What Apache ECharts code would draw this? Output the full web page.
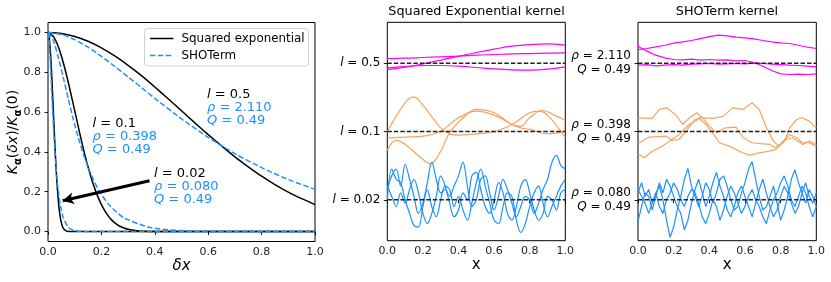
<!DOCTYPE html>
<html><head><meta charset="utf-8">
<script src="https://cdn.jsdelivr.net/npm/echarts@6/dist/echarts.min.js"></script>
<style>html,body{margin:0;padding:0;background:#fff}#c{width:831px;height:282px}</style>
</head><body><div id="c"></div><script>
// ---------- left panel: normalised kernels ----------
const seX_l05 = [0,0.05,0.1,0.15,0.2,0.25,0.3,0.35,0.4,0.45,0.5,0.55,0.6,0.65,0.7,0.75,0.8,0.85,0.9,0.95,1.0];
const seY_l05 = [1,0.995,0.980,0.956,0.923,0.882,0.835,0.783,0.726,0.667,0.607,0.546,0.487,0.430,0.375,0.325,0.278,0.236,0.198,0.165,0.135];
const seX_l01 = [0,0.02,0.04,0.06,0.08,0.10,0.12,0.14,0.16,0.18,0.20,0.22,0.24,0.26,0.28,0.30,0.34,0.40,0.50,1.0];
const seY_l01 = [1,0.980,0.923,0.835,0.726,0.607,0.487,0.375,0.278,0.198,0.135,0.089,0.056,0.034,0.020,0.011,0.003,0.0003,0,0];
const seX_l002 = [0,0.005,0.01,0.015,0.02,0.025,0.03,0.035,0.04,0.045,0.05,0.055,0.06,0.07,0.08,0.1,1.0];
const seY_l002 = [1,0.969,0.882,0.755,0.607,0.458,0.325,0.216,0.135,0.080,0.044,0.023,0.011,0.002,0.0003,0,0];
const shoX_2110 = [0,0.05,0.1,0.15,0.2,0.25,0.3,0.35,0.4,0.5,0.6,0.7,0.8,0.9,1.0];
const shoY_2110 = [1,0.990,0.964,0.926,0.880,0.829,0.777,0.723,0.669,0.566,0.473,0.391,0.321,0.261,0.212];
const shoX_0398 = [0,0.0189,0.0377,0.0566,0.0755,0.0943,0.1132,0.132,0.151,0.170,0.1886,0.2264,0.283,0.377,0.472,0.566,0.755,1.0];
const shoY_0398 = [1,0.964,0.880,0.777,0.669,0.566,0.473,0.391,0.321,0.261,0.212,0.137,0.0697,0.0218,0.0066,0.0020,0.0002,0];
const shoX_0080 = [0,0.0038,0.0076,0.0114,0.0152,0.019,0.0228,0.0265,0.0303,0.0341,0.0379,0.0455,0.0569,0.0758,0.0948,0.1137,0.1517,1.0];
const shoY_0080 = [1,0.964,0.880,0.777,0.669,0.566,0.473,0.391,0.321,0.261,0.212,0.137,0.0697,0.0218,0.0066,0.0020,0.0002,0];
const arrowFrom = [0.38,0.255], arrowTo = [0.055,0.155];
const kTicks = [0,0.2,0.4,0.6,0.8,1.0];
const legendNames = ['Squared exponential','SHOTerm'];

// ---------- middle panel: squared exponential samples (offset 2 / 1 / 0) ----------
const pinkSE_x = [0,0.1,0.2,0.3,0.4,0.5,0.6,0.7,0.8,0.9,1.0];
const pinkSE1 = [2.069,2.074,2.084,2.094,2.103,2.118,2.128,2.138,2.142,2.147,2.152];
const pinkSE2 = [1.908,1.942,1.991,2.045,2.103,2.157,2.206,2.250,2.274,2.284,2.265];
const pinkSE3 = [1.933,1.952,1.967,1.967,1.957,1.938,1.918,1.904,1.899,1.913,1.947];
const orangeSE1 = [[0,0.996],[0.1,1.420],[0.15,1.503],[0.2,1.386],[0.3,1.054],[0.35,0.966],[0.4,0.947],[0.5,0.966],[0.6,0.996],[0.7,1.103],[0.8,1.274],[0.85,1.298],[0.9,1.240],[1.0,0.908]];
const orangeSE2 = [[0,0.908],[0.1,0.918],[0.2,0.932],[0.3,1.005],[0.4,1.201],[0.5,1.298],[0.6,1.240],[0.7,1.103],[0.75,1.054],[0.8,1.030],[0.9,0.966],[1.0,1.005]];
const orangeSE3 = [[0,0.722],[0.05,0.869],[0.1,0.810],[0.2,0.591],[0.24,0.527],[0.3,0.713],[0.35,0.981],[0.45,1.259],[0.5,1.323],[0.6,1.274],[0.7,1.103],[0.75,1.079],[0.8,1.201],[0.87,1.308],[0.95,1.225],[1.0,1.162]];
const blueSE_step = 0.025;
const blueSE1 = [0.15,0.35,0.45,0.2,0.52,0.3,0.05,-0.2,-0.05,0.25,0.55,0.3,0.1,0.15,0.05,0.2,0.35,0.55,0.2,-0.1,0.0,0.3,0.35,0.1,-0.15,0.05,0.3,0.15,-0.05,-0.25,-0.1,0.05,0.0,-0.2,-0.05,0.15,0.3,0.55,0.65,0.5,0.45];
const blueSE2 = [0.0,0.45,0.3,0.25,0.0,-0.2,-0.38,-0.4,-0.1,0.15,-0.1,-0.25,0.0,0.2,0.15,-0.1,0.05,-0.15,-0.3,-0.05,0.25,0.45,0.2,-0.05,-0.3,-0.35,-0.1,0.1,0.05,-0.3,-0.48,-0.35,-0.1,0.1,0.2,-0.05,-0.25,-0.1,0.05,0.2,0.3];
const blueSE3 = [0.2,0.05,-0.1,0.1,-0.05,0.15,0.3,0.1,-0.2,-0.35,-0.2,0.05,0.35,0.2,-0.05,-0.25,-0.15,0.1,0.0,0.35,0.4,0.15,-0.1,-0.2,0.0,0.25,0.1,-0.2,-0.3,-0.1,0.2,0.3,0.1,-0.15,-0.3,-0.2,0.05,0.0,-0.15,0.1,0.15];
const seTickLabels = ['{i|l} = 0.02','{i|l} = 0.1','{i|l} = 0.5'];

// ---------- right panel: SHOTerm samples ----------
const pinkSHO_step = 0.05;
const pinkSHO1 = [2.201,2.216,2.240,2.264,2.294,2.313,2.333,2.362,2.391,2.411,2.401,2.382,2.372,2.357,2.333,2.313,2.299,2.289,2.264,2.235,2.216];
const pinkSHO2 = [2.250,2.177,2.118,2.079,2.055,2.050,2.060,2.045,2.055,2.045,2.050,2.035,2.040,2.011,1.957,1.894,1.845,1.835,1.840,1.835,1.845];
const pinkSHO3 = [1.972,1.981,1.962,1.972,1.981,1.972,1.986,1.991,1.996,1.986,1.991,1.996,1.991,2.001,1.996,1.986,1.981,1.972,1.967,1.957,1.947];
const orangeSHO1 = [[0,1.201],[0.08,1.191],[0.12,1.323],[0.16,1.347],[0.21,1.249],[0.25,1.103],[0.29,1.201],[0.33,1.274],[0.36,1.201],[0.42,1.191],[0.48,1.225],[0.53,1.347],[0.59,1.323],[0.64,1.420],[0.68,1.323],[0.72,1.054],[0.76,0.859],[0.79,0.786],[0.83,0.908],[0.85,1.054],[0.89,1.176],[0.92,1.201],[0.96,1.152],[1.0,1.054]];
const orangeSHO2 = [[0,0.820],[0.06,0.918],[0.16,0.932],[0.19,0.869],[0.23,0.883],[0.27,1.005],[0.32,1.176],[0.36,1.210],[0.40,1.079],[0.44,0.981],[0.49,1.054],[0.55,1.064],[0.59,0.908],[0.64,0.835],[0.70,0.820],[0.74,0.810],[0.77,0.761],[0.81,0.835],[0.85,0.957],[0.89,0.908],[0.92,0.835],[0.96,0.835],[1.0,0.786]];
const orangeSHO3 = [[0,0.674],[0.036,0.615],[0.082,0.713],[0.138,0.786],[0.176,0.859],[0.232,0.957],[0.288,1.103],[0.344,1.191],[0.381,1.103],[0.419,0.981],[0.456,0.835],[0.512,0.786],[0.587,0.688],[0.624,0.654],[0.68,0.688],[0.736,0.713],[0.774,0.737],[0.83,0.883],[0.867,0.908],[0.923,0.810],[0.961,0.859],[1.0,0.810]];
const blueSHO_step = 0.02;
const blueSHO1 = [0.10,0.25,0.05,0.15,-0.05,0.10,0.20,0.0,-0.30,-0.55,-0.40,-0.15,0.05,0.30,0.46,0.20,0.05,-0.10,0.05,0.25,0.15,-0.05,0.10,0.30,0.35,0.20,0.00,-0.15,-0.10,0.10,0.25,0.45,0.56,0.30,0.05,-0.15,-0.10,0.05,0.20,-0.05,-0.30,-0.15,0.05,0.30,0.44,0.25,0.10,-0.05,0.15,0.05,-0.10];
const blueSHO2 = [-0.32,-0.10,0.10,0.05,-0.15,0.05,0.25,0.10,0.30,0.20,0.05,-0.10,-0.20,-0.44,-0.30,-0.05,0.15,0.30,0.10,-0.10,0.05,0.25,0.40,0.20,0.05,-0.15,-0.25,-0.10,0.10,0.20,0.05,-0.10,-0.25,-0.05,0.15,0.30,0.10,-0.10,-0.25,-0.15,0.05,0.20,0.10,-0.05,-0.20,-0.10,0.10,0.25,0.05,-0.05,0.10];
const blueSHO3 = [0.15,0.05,-0.05,-0.20,-0.05,0.10,-0.10,-0.20,0.00,0.10,0.25,0.15,0.00,-0.10,0.05,0.15,0.10,-0.05,-0.25,-0.35,-0.20,0.00,-0.10,-0.30,-0.15,0.05,0.20,0.10,-0.05,-0.20,-0.10,0.05,0.15,0.00,-0.10,-0.25,-0.35,-0.15,0.00,0.10,0.25,0.35,0.20,0.00,-0.10,0.05,0.20,0.10,-0.10,-0.25,-0.10];
const shoTickLabels = ['{i|ρ} = 0.080\n{i|Q} = 0.49','{i|ρ} = 0.398\n{i|Q} = 0.49','{i|ρ} = 2.110\n{i|Q} = 0.49'];
const levels = [0,1,2];

// ---------- build ----------
const FONT = 'DejaVu Sans';
const BLUE = '#1e90ff', PINK = '#ff00ff', ORANGE = '#f4a460';
const zip = (xs, ys) => xs.map((x, i) => [x, ys[i]]);
const grid = (xs, step) => xs.map((y, i) => [+(i * step).toFixed(4), y]);

function line(name, data, gi, color, width, extra) {
  return Object.assign({
    type: 'line', name, data, xAxisIndex: gi, yAxisIndex: gi,
    symbol: 'none', showSymbol: false, animation: false, silent: true,
    lineStyle: { color, width }, itemStyle: { color }, clip: true
  }, extra || {});
}

const series = [];
const dashBlue = { lineStyle: { color: BLUE, width: 1.5, type: [5.5, 2.4] } };
[[seX_l05, seY_l05, shoX_2110, shoY_2110], [seX_l01, seY_l01, shoX_0398, shoY_0398], [seX_l002, seY_l002, shoX_0080, shoY_0080]].forEach(k => {
  series.push(line(legendNames[0], zip(k[0], k[1]), 0, '#000', 1.5, { smooth: 0.2, z: 2 }));
  series.push(line(legendNames[1], zip(k[2], k[3]), 0, BLUE, 1.5, Object.assign({ smooth: 0.2, z: 3 }, dashBlue)));
});
series.push(line('arrow', [], 0, '#000', 1, {
  z: 5,
  markLine: {
    silent: true, animation: false, symbol: ['none', 'arrow'], symbolSize: [9, 11],
    label: { show: false },
    lineStyle: { color: '#000', width: 3, type: 'solid' },
    data: [[{ coord: arrowFrom }, { coord: arrowTo }]]
  }
}));

[pinkSE1, pinkSE2, pinkSE3].forEach(d => series.push(line('p', zip(pinkSE_x, d), 1, PINK, 1.2, { smooth: 0.4 })));
[orangeSE1, orangeSE2, orangeSE3].forEach(d => series.push(line('o', d, 1, ORANGE, 1.2, { smooth: 0.4 })));
[blueSE1, blueSE2, blueSE3].forEach(d => series.push(line('b', grid(d, blueSE_step), 1, BLUE, 1.2, { smooth: 0.35 })));
[pinkSHO1, pinkSHO2, pinkSHO3].forEach(d => series.push(line('p', grid(d, pinkSHO_step), 2, PINK, 1.2)));
[orangeSHO1, orangeSHO2, orangeSHO3].forEach(d => series.push(line('o', d, 2, ORANGE, 1.2)));
[blueSHO1, blueSHO2, blueSHO3].forEach(d => series.push(line('b', grid(d, blueSHO_step), 2, BLUE, 1.2)));
[1, 2].forEach(gi => levels.forEach(v => series.push(line('h', [[0, v], [1, v]], gi, '#000', 1.3, {
  z: 4, lineStyle: { color: '#222', width: 1.3, type: [4.5, 2] }
}))));

const grids = [
  { left: 48, top: 22.5, width: 267, height: 219 },
  { left: 387.3, top: 22.3, width: 178, height: 218.4 },
  { left: 638, top: 22.3, width: 178.3, height: 218.4 }
].map(g => Object.assign(g, { show: true, borderColor: '#000', borderWidth: 1, backgroundColor: 'transparent', containLabel: false }));

const tickStyle = { show: true, inside: false, length: 3.5, lineStyle: { color: '#000', width: 0.9 } };
const lblStyle = { color: '#222', fontSize: 11, fontFamily: FONT };
const xAxes = [0, 1, 2].map(gi => ({
  type: 'value', gridIndex: gi, min: 0, max: 1, interval: 0.2,
  axisLine: { show: false }, splitLine: { show: false },
  axisTick: tickStyle,
  axisLabel: Object.assign({ margin: 5, formatter: v => v.toFixed(1) }, lblStyle),
  name: gi === 0 ? '{i|δx}' : 'x', nameLocation: 'middle', nameGap: 17, nameMoveOverlap: false,
  nameTextStyle: { fontSize: 15, fontFamily: FONT, color: '#000', rich: { i: { fontStyle: 'italic', fontSize: 15, fontFamily: FONT } } }
}));
const yAxes = [
  {
    type: 'value', gridIndex: 0, min: -0.05, max: 1.05,
    axisLine: { show: false }, splitLine: { show: false },
    axisTick: Object.assign({ customValues: kTicks }, tickStyle),
    axisLabel: Object.assign({ margin: 7, customValues: kTicks, formatter: v => v.toFixed(1) }, lblStyle),
    name: '{k|K}{s|α}{n|(}{k|δx}{n|)/}{k|K}{s|α}{n|(0)}', nameLocation: 'middle', nameGap: 25, nameRotate: 90, nameMoveOverlap: false,
    nameTextStyle: {
      color: '#000', fontFamily: FONT, fontSize: 14,
      rich: {
        k: { fontStyle: 'italic', fontSize: 14, fontFamily: FONT, lineHeight: 20, verticalAlign: 'middle' },
        n: { fontSize: 14, fontFamily: FONT, lineHeight: 20, verticalAlign: 'middle' },
        s: { fontSize: 10, fontWeight: 'bold', fontFamily: FONT, lineHeight: 20, verticalAlign: 'bottom' }
      }
    }
  },
  {
    type: 'value', gridIndex: 1, min: -0.6, max: 2.6,
    axisLine: { show: false }, splitLine: { show: false },
    axisTick: Object.assign({ customValues: levels }, tickStyle),
    axisLabel: Object.assign({ margin: 7, customValues: levels, formatter: v => seTickLabels[Math.round(v)],
      rich: { i: { fontStyle: 'italic', fontSize: 12, fontFamily: FONT } } }, lblStyle, { fontSize: 12, color: '#000' })
  },
  {
    type: 'value', gridIndex: 2, min: -0.6, max: 2.6,
    axisLine: { show: false }, splitLine: { show: false },
    axisTick: Object.assign({ customValues: levels }, tickStyle),
    axisLabel: Object.assign({ margin: 7, customValues: levels, lineHeight: 14, align: 'right', formatter: v => shoTickLabels[Math.round(v)],
      rich: { i: { fontStyle: 'italic', fontSize: 12, fontFamily: FONT, lineHeight: 14 } } }, lblStyle, { fontSize: 12, color: '#000' })
  }
];

function ann(x, y, text, color) {
  return { type: 'text', x, y, silent: true, z: 100,
    style: { text, fill: color, fontSize: 13, fontFamily: FONT, verticalAlign: 'middle', align: 'left',
      rich: { i: { fontStyle: 'italic', fontSize: 13, fontFamily: FONT, fill: color } } } };
}
const graphic = [
  { type: 'text', x: 476.5, y: 12, silent: true, style: { text: 'Squared Exponential kernel', fill: '#000', fontSize: 12.8, fontFamily: FONT, align: 'center', verticalAlign: 'middle' } },
  { type: 'text', x: 727, y: 12, silent: true, style: { text: 'SHOTerm kernel', fill: '#000', fontSize: 12.8, fontFamily: FONT, align: 'center', verticalAlign: 'middle' } },
  ann(207, 95, '{i|l} = 0.5', '#000'), ann(207, 108, '{i|ρ} = 2.110', BLUE), ann(207, 120.5, '{i|Q} = 0.49', BLUE),
  ann(92.5, 124, '{i|l} = 0.1', '#000'), ann(92.5, 137, '{i|ρ} = 0.398', BLUE), ann(92.5, 150, '{i|Q} = 0.49', BLUE),
  ann(154, 173.5, '{i|l} = 0.02', '#000'), ann(154, 187, '{i|ρ} = 0.080', BLUE), ann(154, 200, '{i|Q} = 0.49', BLUE),
  // legend box
  { type: 'rect', silent: true, z: 90, shape: { x: 144.5, y: 28.5, width: 164, height: 37.5, r: 3 },
    style: { fill: 'rgba(255,255,255,0.85)', stroke: '#d0d0d0', lineWidth: 1 } },
  { type: 'line', silent: true, z: 91, shape: { x1: 150, y1: 38.5, x2: 173.5, y2: 38.5 }, style: { stroke: '#000', lineWidth: 1.5 } },
  { type: 'line', silent: true, z: 91, shape: { x1: 150, y1: 55.5, x2: 173.5, y2: 55.5 }, style: { stroke: BLUE, lineWidth: 1.5, lineDash: [5.5, 2.4] } },
  { type: 'text', silent: true, z: 91, x: 181.5, y: 38.5, style: { text: legendNames[0], fill: '#000', fontSize: 11.9, fontFamily: FONT, verticalAlign: 'middle' } },
  { type: 'text', silent: true, z: 91, x: 181.5, y: 55.5, style: { text: legendNames[1], fill: '#000', fontSize: 11.9, fontFamily: FONT, verticalAlign: 'middle' } }
];

const chart = echarts.init(document.getElementById('c'), null, { renderer: 'canvas' });
chart.setOption({
  animation: false,
  backgroundColor: '#fff',
  grid: grids, xAxis: xAxes, yAxis: yAxes, series, graphic
});
</script></body></html>
